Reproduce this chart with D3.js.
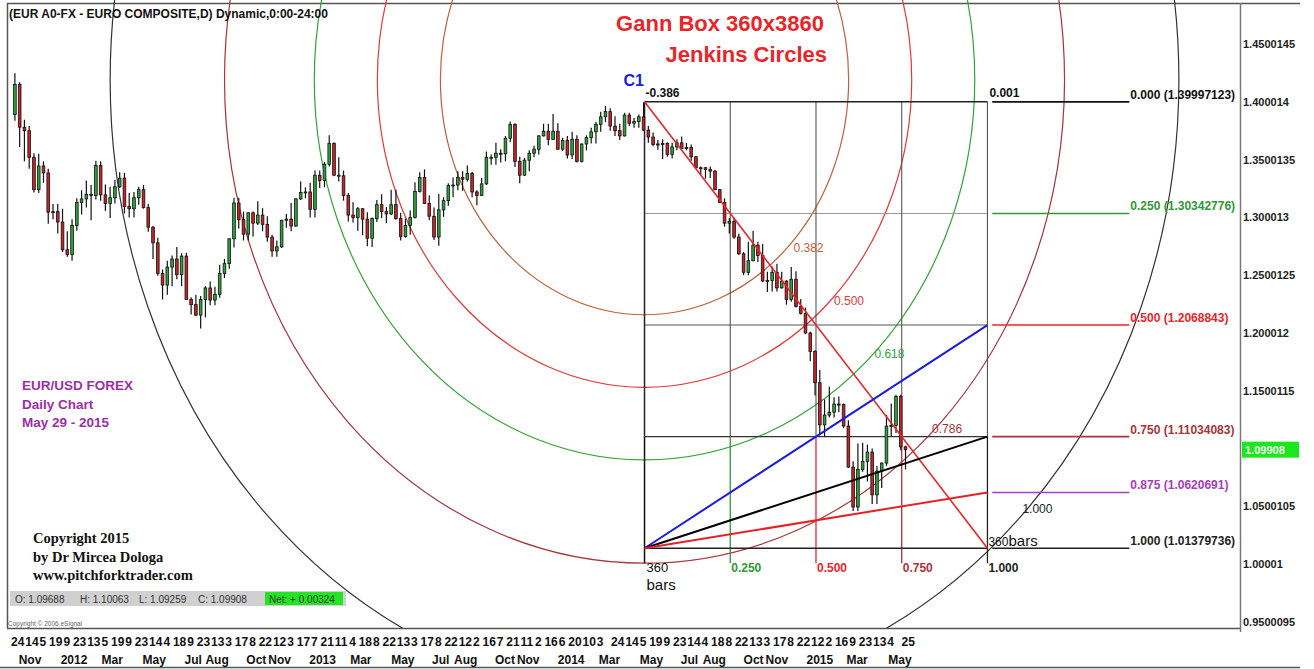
<!DOCTYPE html>
<html><head><meta charset="utf-8">
<script src="https://cdn.jsdelivr.net/npm/d3@7"></script>
<style>
body{margin:0;background:#fff}
svg{display:block}
text{font-family:Arial,"Liberation Sans",sans-serif}
text.serif{font-family:"Liberation Serif","Times New Roman",serif}
</style>
</head><body>
<svg id="c" width="1314" height="669"></svg>
<script>
// ---------------- DATA ----------------
const firstWeek = "2011-10-24"; // Monday of first weekly bar
const weekOpen = [
1.3890,1.4150,1.3780,1.3750,1.3520,1.3240,1.3445,1.3385,1.3045,1.3050,
1.2960,1.2720,1.2680,1.2930,1.3130,1.3160,1.3200,1.3190,1.3450,1.3195,
1.3120,1.3170,1.3265,1.3340,1.3095,1.3075,1.3170,1.3240,1.3085,1.2915,
1.2780,1.2515,1.2415,1.2570,1.2640,1.2505,1.2665,1.2290,1.2245,1.2155,
1.2290,1.2390,1.2285,1.2335,1.2515,1.2600,1.2815,1.3125,1.2980,1.2855,
1.3040,1.2950,1.3020,1.2940,1.2830,1.2710,1.2745,1.2975,1.2985,1.2925,
1.3160,1.3215,1.3220,1.3070,1.3365,1.3320,1.3460,1.3640,1.3365,1.3360,
1.3190,1.3020,1.3000,1.3075,1.2985,1.2820,1.2990,1.3110,1.3050,1.3030,
1.3110,1.2990,1.2835,1.2930,1.3000,1.3225,1.3345,1.3120,1.3010,1.2830,
1.3065,1.3145,1.3275,1.3280,1.3345,1.3330,1.3380,1.3220,1.3190,1.3290,
1.3520,1.3520,1.3555,1.3550,1.3685,1.3805,1.3485,1.3365,1.3495,1.3555,
1.3590,1.3705,1.3745,1.3675,1.3745,1.3590,1.3665,1.3540,1.3675,1.3485,
1.3635,1.3690,1.3740,1.3805,1.3870,1.3915,1.3790,1.3750,1.3705,1.3885,
1.3815,1.3830,1.3870,1.3755,1.3695,1.3630,1.3635,1.3640,1.3545,1.3610,
1.3645,1.3595,1.3605,1.3525,1.3430,1.3430,1.3415,1.3400,1.3240,1.3130,
1.2950,1.2965,1.2830,1.2685,1.2525,1.2625,1.2760,1.2670,1.2450,1.2455,
1.2525,1.2390,1.2450,1.2290,1.2465,1.2230,1.2170,1.2000,1.1840,1.1570,
1.1205,1.1290,1.1315,1.1385,1.1380,1.1195,1.0840,1.0495,1.0820,1.0890,
1.0970,1.0600,1.0805,1.0875,1.1195,1.1200,1.1450,1.1015];
const weekHigh = [
1.4247,1.4170,1.3845,1.3790,1.3555,1.3550,1.3485,1.3420,1.3115,1.3115,
1.3075,1.2880,1.2985,1.3165,1.3235,1.3320,1.3280,1.3490,1.3485,1.3285,
1.3265,1.3325,1.3390,1.3385,1.3210,1.3220,1.3265,1.3280,1.3115,1.2925,
1.2825,1.2550,1.2625,1.2670,1.2745,1.2690,1.2695,1.2310,1.2330,1.2320,
1.2405,1.2445,1.2400,1.2590,1.2640,1.2820,1.3170,1.3170,1.3050,1.3045,
1.3050,1.3140,1.3080,1.3010,1.2850,1.2800,1.2980,1.3030,1.3125,1.3165,
1.3310,1.3260,1.3300,1.3405,1.3405,1.3480,1.3710,1.3650,1.3520,1.3405,
1.3210,1.3130,1.3090,1.3080,1.3045,1.3000,1.3150,1.3200,1.3090,1.3240,
1.3240,1.3040,1.2990,1.3060,1.3305,1.3390,1.3415,1.3190,1.3085,1.3205,
1.3175,1.3295,1.3345,1.3400,1.3400,1.3450,1.3395,1.3235,1.3340,1.3570,
1.3545,1.3645,1.3590,1.3705,1.3830,1.3815,1.3525,1.3515,1.3580,1.3620,
1.3710,1.3810,1.3810,1.3895,1.3815,1.3690,1.3705,1.3740,1.3710,1.3640,
1.3710,1.3775,1.3825,1.3915,1.3965,1.3945,1.3875,1.3810,1.3905,1.3905,
1.3860,1.3890,1.3995,1.3790,1.3735,1.3670,1.3675,1.3650,1.3645,1.3675,
1.3700,1.3645,1.3630,1.3530,1.3440,1.3435,1.3440,1.3410,1.3245,1.3165,
1.2995,1.3000,1.2860,1.2700,1.2790,1.2885,1.2790,1.2770,1.2530,1.2575,
1.2600,1.2530,1.2455,1.2570,1.2535,1.2295,1.2220,1.2010,1.1850,1.1680,
1.1425,1.1535,1.1445,1.1450,1.1390,1.1245,1.0890,1.1045,1.1050,1.1035,
1.1000,1.0850,1.0880,1.1290,1.1390,1.1465,1.1465,1.1025];
const weekLow = [
1.3835,1.3610,1.3485,1.3420,1.3215,1.3210,1.3300,1.2945,1.2985,1.2860,
1.2700,1.2660,1.2625,1.2885,1.3025,1.3085,1.2975,1.3155,1.3145,1.3055,
1.2995,1.3120,1.3255,1.3035,1.3000,1.3000,1.3110,1.3075,1.2875,1.2640,
1.2495,1.2290,1.2330,1.2405,1.2465,1.2405,1.2285,1.2160,1.2145,1.2040,
1.2135,1.2240,1.2240,1.2305,1.2475,1.2555,1.2740,1.2905,1.2800,1.2800,
1.2835,1.2935,1.2880,1.2790,1.2660,1.2660,1.2735,1.2910,1.2880,1.2920,
1.3150,1.3165,1.3000,1.3000,1.3255,1.3260,1.3440,1.3355,1.3310,1.3145,
1.2965,1.2955,1.2885,1.2845,1.2750,1.2745,1.2960,1.2995,1.2950,1.3020,
1.2980,1.2800,1.2825,1.2850,1.2990,1.3215,1.3115,1.2975,1.2805,1.2755,
1.3005,1.3100,1.3175,1.3235,1.3230,1.3310,1.3175,1.3105,1.3185,1.3280,
1.3455,1.3455,1.3475,1.3485,1.3650,1.3435,1.3295,1.3360,1.3400,1.3520,
1.3545,1.3700,1.3625,1.3670,1.3585,1.3575,1.3510,1.3505,1.3475,1.3475,
1.3580,1.3640,1.3640,1.3740,1.3825,1.3750,1.3705,1.3670,1.3700,1.3790,
1.3775,1.3775,1.3750,1.3645,1.3615,1.3585,1.3505,1.3525,1.3510,1.3580,
1.3590,1.3580,1.3490,1.3425,1.3365,1.3335,1.3340,1.3235,1.3125,1.2920,
1.2860,1.2815,1.2675,1.2500,1.2500,1.2620,1.2615,1.2440,1.2355,1.2360,
1.2360,1.2385,1.2245,1.2270,1.2220,1.2160,1.1990,1.1755,1.1460,1.1115,
1.1100,1.1270,1.1270,1.1315,1.1175,1.0835,1.0460,1.0460,1.0800,1.0715,
1.0520,1.0520,1.0660,1.0850,1.1110,1.1135,1.0985,1.0820];
const weekClose = [
1.4150,1.3780,1.3750,1.3520,1.3240,1.3445,1.3385,1.3045,1.3050,1.2960,
1.2720,1.2680,1.2930,1.3130,1.3160,1.3200,1.3190,1.3450,1.3195,1.3120,
1.3170,1.3265,1.3340,1.3095,1.3075,1.3170,1.3240,1.3085,1.2915,1.2780,
1.2515,1.2415,1.2570,1.2640,1.2505,1.2665,1.2290,1.2245,1.2155,1.2290,
1.2390,1.2285,1.2335,1.2515,1.2600,1.2815,1.3125,1.2980,1.2855,1.3040,
1.2950,1.3020,1.2940,1.2830,1.2710,1.2745,1.2975,1.2985,1.2925,1.3160,
1.3215,1.3220,1.3070,1.3365,1.3320,1.3460,1.3640,1.3365,1.3360,1.3190,
1.3020,1.3000,1.3075,1.2985,1.2820,1.2990,1.3110,1.3050,1.3030,1.3110,
1.2990,1.2835,1.2930,1.3000,1.3225,1.3345,1.3120,1.3010,1.2830,1.3065,
1.3145,1.3275,1.3280,1.3345,1.3330,1.3380,1.3220,1.3190,1.3290,1.3520,
1.3520,1.3555,1.3550,1.3685,1.3805,1.3485,1.3365,1.3495,1.3555,1.3590,
1.3705,1.3745,1.3675,1.3745,1.3590,1.3665,1.3540,1.3675,1.3485,1.3635,
1.3690,1.3740,1.3805,1.3870,1.3915,1.3790,1.3750,1.3705,1.3885,1.3815,
1.3830,1.3870,1.3755,1.3695,1.3630,1.3635,1.3640,1.3545,1.3610,1.3645,
1.3595,1.3605,1.3525,1.3430,1.3430,1.3415,1.3400,1.3240,1.3130,1.2950,
1.2965,1.2830,1.2685,1.2525,1.2625,1.2760,1.2670,1.2450,1.2455,1.2525,
1.2390,1.2450,1.2290,1.2465,1.2230,1.2170,1.2000,1.1840,1.1570,1.1205,
1.1290,1.1315,1.1385,1.1380,1.1195,1.0840,1.0495,1.0820,1.0890,1.0970,
1.0600,1.0805,1.0875,1.1195,1.1200,1.1450,1.1015,1.0990];

// price axis
const priceTicks = [1.45,1.40,1.35,1.30,1.25,1.20,1.15,1.05,1.00,0.95];
const priceTickLabels = ["1.4500145","1.400014","1.3500135","1.300013","1.2500125","1.200012","1.1500115","1.0500105","1.00001","0.9500095"];
const lastPrice = 1.09908;

// time axis
const dayTickDates = ["2011-10-24","2011-11-14","2011-12-05","2011-12-19",
"2012-01-09","2012-01-23","2012-02-13","2012-03-05","2012-03-19","2012-04-09","2012-04-23","2012-05-14","2012-06-04","2012-06-18","2012-07-09","2012-07-23","2012-08-13","2012-09-03","2012-09-17","2012-10-08","2012-10-22","2012-11-12","2012-12-03","2012-12-17",
"2013-01-07","2013-01-21","2013-02-11","2013-03-04","2013-03-18","2013-04-08","2013-04-22","2013-05-13","2013-06-03","2013-06-17","2013-07-08","2013-07-22","2013-08-12","2013-09-02","2013-09-16","2013-10-07","2013-10-21","2013-11-11","2013-12-02","2013-12-16",
"2014-01-06","2014-01-20","2014-02-10","2014-03-03","2014-03-24","2014-04-14","2014-05-05","2014-05-19","2014-06-09","2014-06-23","2014-07-14","2014-08-04","2014-08-18","2014-09-08","2014-09-22","2014-10-13","2014-11-03","2014-11-17","2014-12-08","2014-12-22",
"2015-01-12","2015-02-02","2015-02-16","2015-03-09","2015-03-23","2015-04-13","2015-05-04","2015-05-25"];
const monthLabels = ["Nov","2012","Mar","May","Jul","Aug","Oct","Nov","2013","Mar","May","Jul","Aug","Oct","Nov","2014","Mar","May","Jul","Aug","Oct","Nov","2015","Mar","May"];
const monthDates = ["2011-11-01","2012-01-02","2012-03-01","2012-05-01","2012-07-02","2012-08-01","2012-10-01","2012-11-01","2013-01-01","2013-03-01","2013-05-01","2013-07-01","2013-08-01","2013-10-01","2013-11-01","2014-01-01","2014-03-03","2014-05-01","2014-07-01","2014-08-01","2014-10-01","2014-11-03","2015-01-01","2015-03-02","2015-05-01"];

// Gann box 360 bars x 3860 pips
const boxStartDate = "2014-05-08";
const boxBars = 360;
const boxTop = 1.39997123, boxBottom = 1.01379736;
const levelFracs = [0, 0.25, 0.5, 0.75, 0.875, 1.0];
const levelLabels = ["0.000 (1.39997123)","0.250 (1.30342776)","0.500 (1.2068843)","0.750 (1.11034083)","0.875 (1.0620691)","1.000 (1.01379736)"];
const levelColors = ["#111","#2e9a36","#e8262a","#a8343a","#a83cc0","#222"];
const innerLevelFracs = [0.25, 0.5, 0.75];
const innerLevelColors = ["#9a9a9a","#555","#333"];
const timeFracs = [0, 0.25, 0.5, 0.75, 1.0];
const timeLabels = ["360","0.250","0.500","0.750","1.000"];
const timeColors = ["#111","#2e9a36","#e8262a","#a8343a","#222"];
const fanFracs = [0.5, 0.75, 0.875];
const fanColors = ["#1c1ce0","#000","#e3222a"];
// Jenkins circles
const circleRatios = [0.382, 0.5, 0.618, 0.786, 1.0];
const circleColors = ["#c0603c","#e23a3a","#33a43a","#a8343a","#333"];
const circleLabelRatios = [0.382, 0.5, 0.618, 0.786];
const circleLabels = ["0.382","0.500","0.618","0.786"];
const circleCenterPrice = 1.419;
const circleRadiusBars = 561;
const circleRadiusPrice = 0.532;

// ---------------- CHART ----------------
const svg = d3.select("#c");
const DAY = 86400000;
function barOf(s){
  const d = Math.round((Date.parse(s) - Date.parse(firstWeek))/DAY);
  const w = Math.floor(d/7), r = d - 7*w;
  return w*5 + Math.min(r,5);
}
const x = d3.scaleLinear().domain([0,1285]).range([13,1237]);
const y = d3.scaleLinear().domain([0.95,1.45]).range([622,44]);

const b0 = barOf(boxStartDate), b1 = b0 + boxBars;
const lvl = f => boxTop - f*(boxTop - boxBottom);

// frame
svg.append("line").attr("x1",7).attr("x2",1300).attr("y1",3.5).attr("y2",3.5).attr("stroke","#555").attr("stroke-width",1.5);
svg.append("line").attr("x1",7.5).attr("x2",7.5).attr("y1",3).attr("y2",628).attr("stroke","#555").attr("stroke-width",1.5);
svg.append("line").attr("x1",7).attr("x2",1240).attr("y1",628.5).attr("y2",628.5).attr("stroke","#555").attr("stroke-width",1.5);
svg.append("line").attr("x1",1240.5).attr("x2",1240.5).attr("y1",3).attr("y2",632).attr("stroke","#777").attr("stroke-width",1.5);
svg.append("line").attr("x1",0).attr("x2",1300).attr("y1",667.5).attr("y2",667.5).attr("stroke","#555").attr("stroke-width",1.5);

svg.append("defs").append("clipPath").attr("id","plot").append("rect")
  .attr("x",8).attr("y",0).attr("width",1232).attr("height",628);

// circles
const cx0 = x(b0), cy0 = y(circleCenterPrice);
const rX = x(circleRadiusBars) - x(0), rY = y(circleCenterPrice - circleRadiusPrice) - y(circleCenterPrice);
svg.append("g").attr("clip-path","url(#plot)").selectAll("ellipse").data(circleRatios).join("ellipse")
  .attr("cx",cx0).attr("cy",cy0)
  .attr("rx",d=>d*rX).attr("ry",d=>d*rY)
  .attr("fill","none").attr("stroke",(d,i)=>circleColors[i]).attr("stroke-width",1.2);

// Gann box grid
const g = svg.append("g");
innerLevelFracs.forEach((f,i)=>{
  g.append("line").attr("x1",x(b0)).attr("x2",x(b1)).attr("y1",y(lvl(f))).attr("y2",y(lvl(f)))
   .attr("stroke",innerLevelColors[i]).attr("stroke-width",1.1);
});
timeFracs.forEach((f,i)=>{
  const xx = x(b0 + f*boxBars);
  g.append("line").attr("x1",xx).attr("x2",xx).attr("y1",y(boxTop)).attr("y2",y(lvl(0.75)))
   .attr("stroke", i===0 ? "#222" : "#555").attr("stroke-width", i===0?1.5:1.1);
  g.append("line").attr("x1",xx).attr("x2",xx).attr("y1",y(lvl(0.75))).attr("y2",y(boxBottom - 0.013))
   .attr("stroke",timeColors[i]).attr("stroke-width", i===0?1.5:1.3);
});
[0,1].forEach(f=>{
  g.append("line").attr("x1",x(b0)).attr("x2",x(b1)).attr("y1",y(lvl(f))).attr("y2",y(lvl(f)))
   .attr("stroke","#222").attr("stroke-width",1.5);
});
levelFracs.forEach((f,i)=>{
  g.append("line").attr("x1",x(b1+5)).attr("x2",x(b1+149)).attr("y1",y(lvl(f))).attr("y2",y(lvl(f)))
   .attr("stroke",levelColors[i]).attr("stroke-width",1.6);
  g.append("text").attr("x",x(b1+149)+1).attr("y",y(lvl(f))-3)
   .attr("font-size",12).attr("font-weight","bold").attr("fill",levelColors[i]).text(levelLabels[i]);
});

// candles (weekly)
const weeks = weekClose.map((c,i)=>({i,o:weekOpen[i],h:weekHigh[i],l:weekLow[i],c}));
const cg = svg.append("g");
cg.selectAll("line").data(weeks).join("line")
  .attr("x1",d=>x(5*d.i+2)).attr("x2",d=>x(5*d.i+2))
  .attr("y1",d=>y(d.h)).attr("y2",d=>y(d.l))
  .attr("stroke","#111").attr("stroke-width",1.2);
cg.selectAll("rect").data(weeks).join("rect")
  .attr("x",d=>x(5*d.i+0.6)).attr("width",d=>x(5*d.i+3.4)-x(5*d.i+0.6))
  .attr("y",d=>y(Math.max(d.o,d.c))).attr("height",d=>Math.max(1,Math.abs(y(d.o)-y(d.c))))
  .attr("fill",d=>d.c>=d.o?"#2ba53a":"#cc2228").attr("stroke","#111").attr("stroke-width",0.8);

// diagonal & fan lines
svg.append("line").attr("x1",x(b0)).attr("y1",y(boxTop)).attr("x2",x(b1)).attr("y2",y(boxBottom))
  .attr("stroke","#e8262a").attr("stroke-width",1.6);
fanFracs.forEach((f,i)=>{
  svg.append("line").attr("x1",x(b0)).attr("y1",y(boxBottom)).attr("x2",x(b1)).attr("y2",y(lvl(f)))
   .attr("stroke",fanColors[i]).attr("stroke-width",2);
});

// circle labels along diagonal
circleLabelRatios.forEach((r,i)=>{
  const px = x(b0 + r*boxBars), py = y(boxTop - r*(boxTop-boxBottom));
  svg.append("text").attr("x",px+18).attr("y",py-20).attr("font-size",12)
    .attr("fill",circleColors[i]).text(circleLabels[i]);
});
svg.append("text").attr("x",x(b1)+35).attr("y",y(boxBottom)-35).attr("font-size",12).attr("fill","#222").text("1.000");

// box labels
svg.append("text").attr("x",x(b0)+1).attr("y",y(boxTop)-5).attr("font-size",12).attr("font-weight","bold").attr("fill","#111").text("-0.386");
svg.append("text").attr("x",x(b1)+2).attr("y",y(boxTop)-5).attr("font-size",12).attr("font-weight","bold").attr("fill","#111").text("0.001");
svg.append("text").attr("x",x(b0)-21).attr("y",y(boxTop)-16).attr("font-size",16).attr("font-weight","bold").attr("fill","#1c1ce0").text("C1");
timeFracs.forEach((f,i)=>{
  if(i===0) return;
  svg.append("text").attr("x",x(b0+f*boxBars)+1).attr("y",y(boxBottom)+24).attr("font-size",12).attr("font-weight","bold")
    .attr("fill",timeColors[i]).text(timeLabels[i]);
});
svg.append("text").attr("x",x(b0)+2).attr("y",y(boxBottom)+24).attr("font-size",13).attr("fill","#111").text(timeLabels[0]);
svg.append("text").attr("x",x(b0)+2).attr("y",y(boxBottom)+42).attr("font-size",15).attr("fill","#111").text("bars");
svg.append("text").attr("x",x(b1)+1).attr("y",y(boxBottom)-2).attr("fill","#111")
  .call(t=>{t.append("tspan").attr("font-size",12).text("360");t.append("tspan").attr("font-size",15).text("bars");});

// titles
svg.append("text").attr("x",824).attr("y",31).attr("text-anchor","end").attr("font-size",22).attr("font-weight","bold").attr("fill","#e8262a").text("Gann Box 360x3860");
svg.append("text").attr("x",827).attr("y",62).attr("text-anchor","end").attr("font-size",22).attr("font-weight","bold").attr("fill","#e8262a").text("Jenkins Circles");
svg.append("text").attr("x",9).attr("y",18).attr("font-size",12).attr("font-weight","bold").attr("fill","#111")
  .text("(EUR A0-FX - EURO COMPOSITE,D) Dynamic,0:00-24:00");

// purple note
["EUR/USD FOREX","Daily Chart","May 29 - 2015"].forEach((s,i)=>{
  svg.append("text").attr("x",22).attr("y",390+i*18.5).attr("font-size",13.5).attr("font-weight","bold").attr("fill","#9b2fa8").text(s);
});
// copyright
["Copyright 2015","by Dr Mircea Dologa","www.pitchforktrader.com"].forEach((s,i)=>{
  svg.append("text").attr("class","serif").attr("x",33).attr("y",543+i*18.5)
   .attr("font-size",14.5).attr("font-weight","bold").attr("fill","#111").text(s);
});
// OHLC status bar
svg.append("rect").attr("x",10).attr("y",591).attr("width",336).attr("height",15).attr("fill","#d0d0d0");
svg.append("rect").attr("x",265).attr("y",592).attr("width",78).attr("height",13).attr("fill","#22e622");
[["O: 1.09688",15],["H: 1.10063",80],["L: 1.09259",139],["C: 1.09908",198],["Net: + 0.00324",269]].forEach(([s,xx])=>{
  svg.append("text").attr("x",xx).attr("y",602.5).attr("font-size",10).attr("fill","#333").text(s);
});
svg.append("text").attr("x",8).attr("y",626).attr("font-size",6.5).attr("fill","#666").text("Copyright © 2006 eSignal");

// price axis
const ya = d3.axisRight(y).tickValues(priceTicks).tickSize(0).tickPadding(3).tickFormat((d,i)=>priceTickLabels[i]);
svg.append("g").attr("transform","translate(1240,0)").call(ya)
  .call(a=>a.select(".domain").remove())
  .call(a=>a.selectAll("text").attr("font-size",11).attr("font-weight","bold").attr("fill","#222").style("font-family","Arial,'Liberation Sans',sans-serif"));
svg.append("rect").attr("x",1242).attr("y",y(lastPrice)-8).attr("width",57).attr("height",16).attr("fill","#1ee61e");
svg.append("text").attr("x",1245).attr("y",y(lastPrice)+4).attr("font-size",11).attr("font-weight","bold").attr("fill","#f4fff4").text(lastPrice.toFixed(5));

// time axis
svg.append("g").selectAll("text").data(dayTickDates).join("text")
  .attr("x",d=>x(barOf(d))-2).attr("y",646).attr("font-size",12).attr("font-weight","bold").attr("fill","#111")
  .text(d=>String(+d.slice(8)));
svg.append("g").selectAll("text").data(monthDates).join("text")
  .attr("x",d=>x(barOf(d))).attr("y",664).attr("font-size",12).attr("font-weight","bold").attr("fill","#111")
  .text((d,i)=>monthLabels[i]);
</script>
</body></html>
